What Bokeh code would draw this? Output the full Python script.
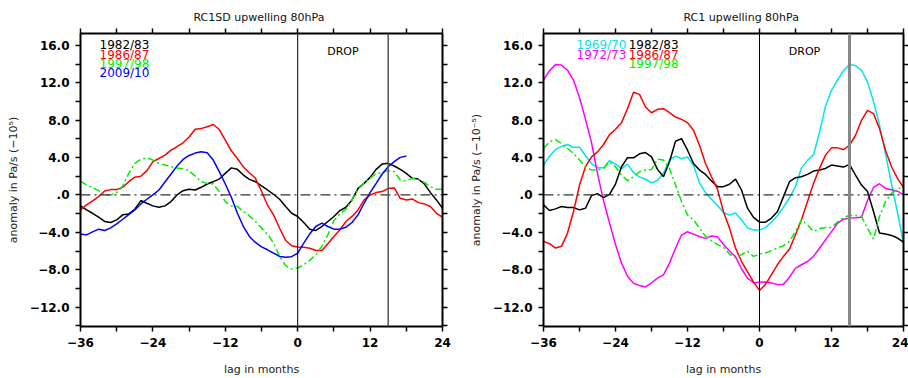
from bokeh.plotting import figure
from bokeh.layouts import row
from bokeh.models import Range1d, FixedTicker, LinearAxis, Span
from bokeh.core.properties import value
from bokeh.embed import file_html
from bokeh.resources import INLINE

# lag axis (months relative to the drop onset)
lag = list(range(-36, 25))
lag_0910 = list(range(-36, 19))

# ---- RC1SD upwelling anomalies at 80 hPa ----
sd_1982 = [-1.17, -1.6, -1.96, -2.38, -2.84, -2.95, -2.67, -2.13, -2.03, -1.53,
           -0.6, -0.89, -1.17, -1.32, -1.17, -0.71, 0.0, 0.46, 0.6, 0.53,
           0.82, 1.17, 1.42, 1.7, 2.31, 2.9, 2.74, 2.13, 1.67, 1.42,
           0.96, 0.53, 0.07, -0.46, -1.24, -1.96, -2.31, -2.95, -3.66, -3.8,
           -3.38, -2.84, -2.31, -1.67, -1.32, -0.53, 0.71, 1.24, 1.88, 2.74,
           3.3, 3.38, 3.1, 2.74, 2.31, 1.78, 1.7, 1.17, 0.25, -0.53, -1.42]
sd_1986 = [-1.6, -1.07, -0.64, -0.18, 0.43, 0.57, 0.57, 0.82, 1.42, 1.9,
           2.0, 2.6, 3.56, 3.9, 4.27, 4.8, 5.16, 5.58, 6.2, 7.04,
           7.1, 7.3, 7.54, 7.0, 5.87, 4.73, 3.9, 3.0, 2.38, 1.78,
           0.4, -1.1, -2.13, -3.56, -4.87, -5.44, -5.58, -5.6, -5.7, -5.94,
           -5.94, -5.23, -4.44, -3.73, -2.84, -2.3, -1.6, -0.53, 0.0, 0.25,
           0.36, 0.71, 0.75, -0.36, -0.53, -0.43, -0.82, -0.96, -1.24, -1.96, -2.38]
sd_1997 = [1.49, 1.07, 0.78, 0.46, -0.04, 0.0, 0.25, 0.96, 2.31, 3.38,
           3.8, 3.98, 3.73, 3.38, 3.2, 3.02, 2.88, 2.81, 2.6, 2.03,
           1.42, 1.24, 1.17, 0.36, -0.71, -1.17, -1.24, -1.78, -2.24, -2.84,
           -3.55, -4.2, -5.16, -6.58, -7.57, -7.93, -7.82, -7.47, -7.0, -6.4,
           -5.51, -4.27, -2.74, -2.03, -1.53, -0.53, 0.6, 1.24, 1.78, 2.31,
           2.38, 2.6, 2.49, 1.6, 1.49, 1.78, 1.67, 1.35, 0.89, 0.6, 0.6]
sd_2009 = [-4.2, -4.27, -3.95, -3.66, -3.8, -3.52, -3.09, -2.6, -2.1, -1.6,
           -0.96, -0.46, 0.0, 0.53, 1.39, 2.24, 3.09, 3.8, 4.23, 4.48,
           4.62, 4.52, 3.73, 2.49, 1.17, -0.25, -1.96, -3.38, -4.44, -5.08,
           -5.56, -5.87, -6.22, -6.58, -6.68, -6.61, -6.22, -5.16, -4.16, -3.38,
           -3.02, -3.38, -3.66, -3.66, -3.45, -2.95, -2.13, -0.89, 0.25, 1.24,
           2.24, 3.02, 3.56, 4.02, 4.16]

# ---- RC1 upwelling anomalies at 80 hPa ----
rc_1969 = [3.18, 4.15, 4.86, 5.2, 5.4, 5.1, 5.1, 4.2, 3.36, 2.9,
           2.9, 3.68, 3.3, 2.82, 3.3, 2.4, 1.93, 1.68, 1.29, 1.55,
           2.35, 3.75, 4.15, 3.88, 4.06, 3.18, 1.3, 0.25, -0.47, -1.12,
           -1.88, -2.15, -1.94, -2.68, -3.52, -3.75, -3.74, -3.5, -2.9, -2.2,
           -1.3, -0.3, 0.9, 2.9, 3.7, 4.3, 6.7, 9.5, 11.2, 12.3,
           13.3, 13.95, 13.85, 13.35, 12.1, 10.0, 7.5, 4.4, 1.2, -1.9, -5.15]
rc_1972 = [12.3, 13.3, 13.95, 13.9, 13.35, 12.3, 10.4, 8.1, 5.6, 2.3,
           -0.6, -3.0, -5.3, -7.3, -8.7, -9.45, -9.7, -9.85, -9.4, -8.9,
           -8.55, -7.3, -5.7, -4.3, -3.94, -4.19, -4.47, -4.65, -4.4, -4.47,
           -5.3, -6.0, -6.6, -7.9, -8.9, -9.4, -9.35, -9.32, -9.42, -9.6,
           -9.55, -8.8, -7.83, -7.47, -7.12, -6.58, -5.7, -4.81, -3.92, -3.03,
           -2.6, -2.48, -2.45, -2.38, -0.6, 0.8, 1.2, 0.7, 0.55, 0.4, 0.0]
rc_1982 = [-1.06, -1.67, -1.49, -1.24, -1.35, -1.35, -1.6, -1.42, -0.07, 0.14,
           -0.28, 0.07, 1.17, 3.02, 3.98, 3.98, 4.4, 4.54, 4.08, 2.74,
           1.95, 3.55, 5.75, 6.03, 4.79, 3.37, 2.66, 2.2, 1.49, 0.89,
           0.89, 1.14, 1.7, 0.53, -1.42, -2.41, -2.91, -2.91, -2.48, -1.77,
           -0.18, 1.42, 1.85, 1.95, 2.2, 2.56, 2.66, 2.84, 3.2, 3.09,
           2.98, 3.27, 2.13, 1.06, 0.36, -1.77, -4.08, -4.19, -4.33, -4.61, -5.04]
rc_1986 = [-4.97, -5.22, -5.68, -5.5, -4.08, -1.77, 1.06, 3.02, 4.08, 4.61,
           5.4, 6.46, 7.03, 7.74, 9.23, 11.0, 10.76, 9.41, 8.8, 9.16,
           9.23, 8.8, 8.34, 8.09, 7.74, 6.92, 5.32, 3.37, 1.95, 0.6,
           -1.8, -3.55, -5.68, -7.1, -8.24, -9.3, -10.22, -9.58, -8.52, -7.45,
           -6.57, -5.79, -4.26, -2.66, -0.71, 1.24, 2.84, 4.26, 5.04, 5.04,
           4.86, 5.32, 6.39, 7.99, 9.05, 8.7, 7.1, 4.79, 3.02, 1.77, 0.78]
rc_1997 = [4.97, 5.68, 5.93, 5.5, 4.97, 4.44, 3.73, 3.02, 2.66, 2.66,
           2.84, 3.55, 3.02, 2.13, 1.53, 1.95, 2.48, 2.66, 2.73, 3.84,
           3.73, 2.84, 1.06, -0.71, -2.13, -2.66, -3.55, -4.44, -4.9, -5.32,
           -5.6, -6.32, -6.74, -6.39, -6.03, -6.57, -6.32, -6.21, -5.96, -5.68,
           -5.43, -4.97, -3.9, -2.66, -3.2, -3.9, -3.62, -3.48, -3.48, -2.91,
           -2.41, -2.2, -2.2, -2.31, -3.55, -4.72, -2.31, -0.71, 0.18, 0.64, 0.89]

# tick positions and labels
x_major = [-36, -24, -12, 0, 12, 24]
x_minor = [-30, -18, -6, 6, 18]
x_labels = ["\u221236", "\u221224", "\u221212", "0", "12", "24"]
y_major = [-12, -8, -4, 0, 4, 8, 12, 16]
y_minor = [-14, -10, -6, -2, 2, 6, 10, 14]
y_labels = ["\u221212.0", "\u22128.0", "\u22124.0", ".0", "4.0", "8.0", "12.0", "16.0"]

FONT = "DejaVu Sans"
GREEN_DASH = "7 3 2 3"


def style_axis(ax):
    ax.axis_line_width = 2
    ax.axis_line_color = "black"
    ax.major_tick_out = 5
    ax.major_tick_in = 0
    ax.minor_tick_out = 5
    ax.minor_tick_in = 0
    ax.major_tick_line_width = 1.5
    ax.minor_tick_line_width = 1.5
    ax.major_label_text_font = FONT
    ax.major_label_text_font_style = "bold"
    ax.major_label_text_font_size = "12px"
    ax.major_label_text_color = "black"
    ax.major_label_standoff = 6
    ax.axis_label_text_font = FONT
    ax.axis_label_text_font_style = "normal"
    ax.axis_label_text_font_size = "11px"
    ax.axis_label_text_color = "#222222"


def make_panel(title, title_offset, ylabel, width, b_left, b_right):
    p = figure(width=width, height=378, output_backend="svg", toolbar_location=None,
               x_range=Range1d(-36, 24), y_range=Range1d(-14.08, 17.28),
               x_axis_type=None, y_axis_type=None,
               min_border_left=b_left, min_border_right=b_right,
               min_border_top=33, min_border_bottom=51)
    p.grid.visible = False
    p.outline_line_color = None
    p.background_fill_color = "white"
    p.border_fill_color = "white"

    p.title.text = title
    p.title.align = "left"
    p.title.offset = title_offset
    p.title.text_font = FONT
    p.title.text_font_size = "11px"
    p.title.text_font_style = "normal"
    p.title.text_color = "#111111"

    xt = FixedTicker(ticks=x_major, minor_ticks=x_minor)
    yt = FixedTicker(ticks=y_major, minor_ticks=y_minor)
    xl = dict(zip(x_major, x_labels))
    yl = dict(zip(y_major, y_labels))

    bottom = LinearAxis(ticker=xt, major_label_overrides=xl, axis_label="lag in months")
    style_axis(bottom)
    bottom.axis_label_standoff = 13
    p.add_layout(bottom, "below")

    left = LinearAxis(ticker=yt, major_label_overrides=yl, axis_label=ylabel)
    style_axis(left)
    left.axis_label_standoff = 7
    p.add_layout(left, "left")

    # frame ticks on the top and right sides carry no labels
    top = LinearAxis(ticker=xt, major_label_overrides={t: "" for t in x_major})
    style_axis(top)
    p.add_layout(top, "above")

    right = LinearAxis(ticker=yt, major_label_overrides={t: "" for t in y_major})
    style_axis(right)
    p.add_layout(right, "right")

    p.add_layout(Span(location=0, dimension="width", line_color="#333333",
                      line_width=1.2, line_dash="10 4 2 4"))
    p.add_layout(Span(location=0, dimension="height", line_color="black", line_width=1))
    p.text(x=[7.5], y=[15.4], text=["DROP"], text_font=value(FONT),
           text_font_size=value("11px"), text_align="center",
           text_baseline="middle", text_color="black")
    return p


def legend_entry(p, x, y, label, color):
    p.text(x=[x], y=[y], text=[label], text_font=value(FONT),
           text_font_size=value("12px"), text_align="left",
           text_baseline="middle", text_color=color)


# left panel: RC1SD
p1 = make_panel("RC1SD upwelling 80hPa", 113, "anomaly in Pa/s (\u221210\u2075)", 460, 80, 18)
p1.add_layout(Span(location=15, dimension="height", line_color="#555555", line_width=1.5))
p1.line(lag, sd_1982, line_color="black", line_width=1.5)
p1.line(lag, sd_1986, line_color="#ff0000", line_width=1.5)
p1.line(lag, sd_1997, line_color="#00ee00", line_width=1.5, line_dash=GREEN_DASH)
p1.line(lag_0910, sd_2009, line_color="#0000ff", line_width=1.5)
legend_entry(p1, -32.85, 16, "1982/83", "black")
legend_entry(p1, -32.85, 15, "1986/87", "#ff0000")
legend_entry(p1, -32.85, 14, "1997/98", "#00ee00")
legend_entry(p1, -32.85, 13, "2009/10", "#0000ff")

# right panel: RC1
p2 = make_panel("RC1 upwelling 80hPa", 140, "anomaly in Pa/s (\u221210\u207b\u2075)", 448, 83, 2)
p2.add_layout(Span(location=15, dimension="height", line_color="#888888", line_width=3))
p2.line(lag, rc_1969, line_color="#00e5ee", line_width=1.5)
p2.line(lag, rc_1972, line_color="#ff00ff", line_width=1.5)
p2.line(lag, rc_1982, line_color="black", line_width=1.5)
p2.line(lag, rc_1986, line_color="#ff0000", line_width=1.5)
p2.line(lag, rc_1997, line_color="#00ee00", line_width=1.5, line_dash=GREEN_DASH)
legend_entry(p2, -30.5, 16, "1969/70", "#00e5ee")
legend_entry(p2, -21.8, 16, "1982/83", "black")
legend_entry(p2, -30.5, 15, "1972/73", "#ff00ff")
legend_entry(p2, -21.8, 15, "1986/87", "#ff0000")
legend_entry(p2, -21.8, 14, "1997/98", "#00ee00")

layout = row(p1, p2)
open("out.html", "w").write(file_html(layout, INLINE))
